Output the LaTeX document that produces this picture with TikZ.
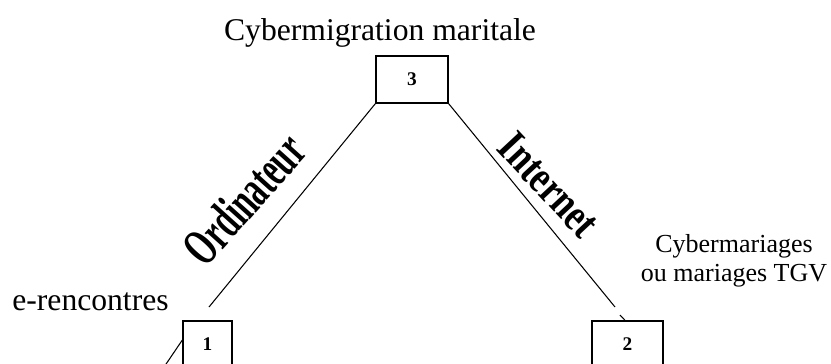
\documentclass[tikz,border=0pt]{standalone}
\usepackage{fontspec}
\setmainfont{Liberation Serif}

\tikzset{
	boite/.style={draw, line width=0.8pt, minimum width=1.44cm, minimum height=0.94cm, inner sep=0pt, font=\fontsize{11}{13}\selectfont\bfseries},
	lien/.style={line width=0.6pt},
	etiquette/.style={inner sep=0pt, font=\fontsize{18}{21}\selectfont},
	media/.style={inner sep=0pt, font=\fontsize{26}{30}\selectfont\bfseries}
}

\begin{document}
\begin{tikzpicture}[]

	\useasboundingbox (0, 0) rectangle (16.62, 7.26);
	\clip (0, 0) rectangle (16.62, 7.26);

	\node[boite] (b3) at (8.24, 5.67) {3};
	\node[boite, minimum width=0.98cm] (b1) at (4.15, 0.37) {1};
	\node[boite, minimum width=1.42cm] (b2) at (12.55, 0.37) {2};

	\coordinate (finOrd) at (4.18, 1.12);
	\coordinate (finInt) at (12.3, 1.12);
	\coordinate (debInt) at (12.4, 0.96);
	\coordinate (basGauche) at (3.2, -0.2);

	\path[lien] (b3.south west) edge (finOrd) (b3.south east) edge (finInt) (debInt) edge ([xshift=-0.05cm]b2.north) (b1.170) edge (basGauche);

	\node[etiquette, anchor=base] (titre) at (7.6, 6.46) {Cybermigration maritale};
	\node[etiquette, anchor=base west] (rencontres) at (0.24, 1.06) {e-rencontres};
	\node[etiquette, align=center, font=\fontsize{14.8}{16.4}\selectfont] (mariages) at (14.68, 2.04) {Cybermariages\\ou mariages TGV};

	\node[media, font=\fontsize{30}{34}\selectfont\bfseries, rotate=48, xscale=0.6] (ordi) at (4.88, 3.28) {Ordinateur};
	\node[media, rotate=-47, xscale=0.78] (inter) at (10.98, 3.56) {Internet};

\end{tikzpicture}
\end{document}
